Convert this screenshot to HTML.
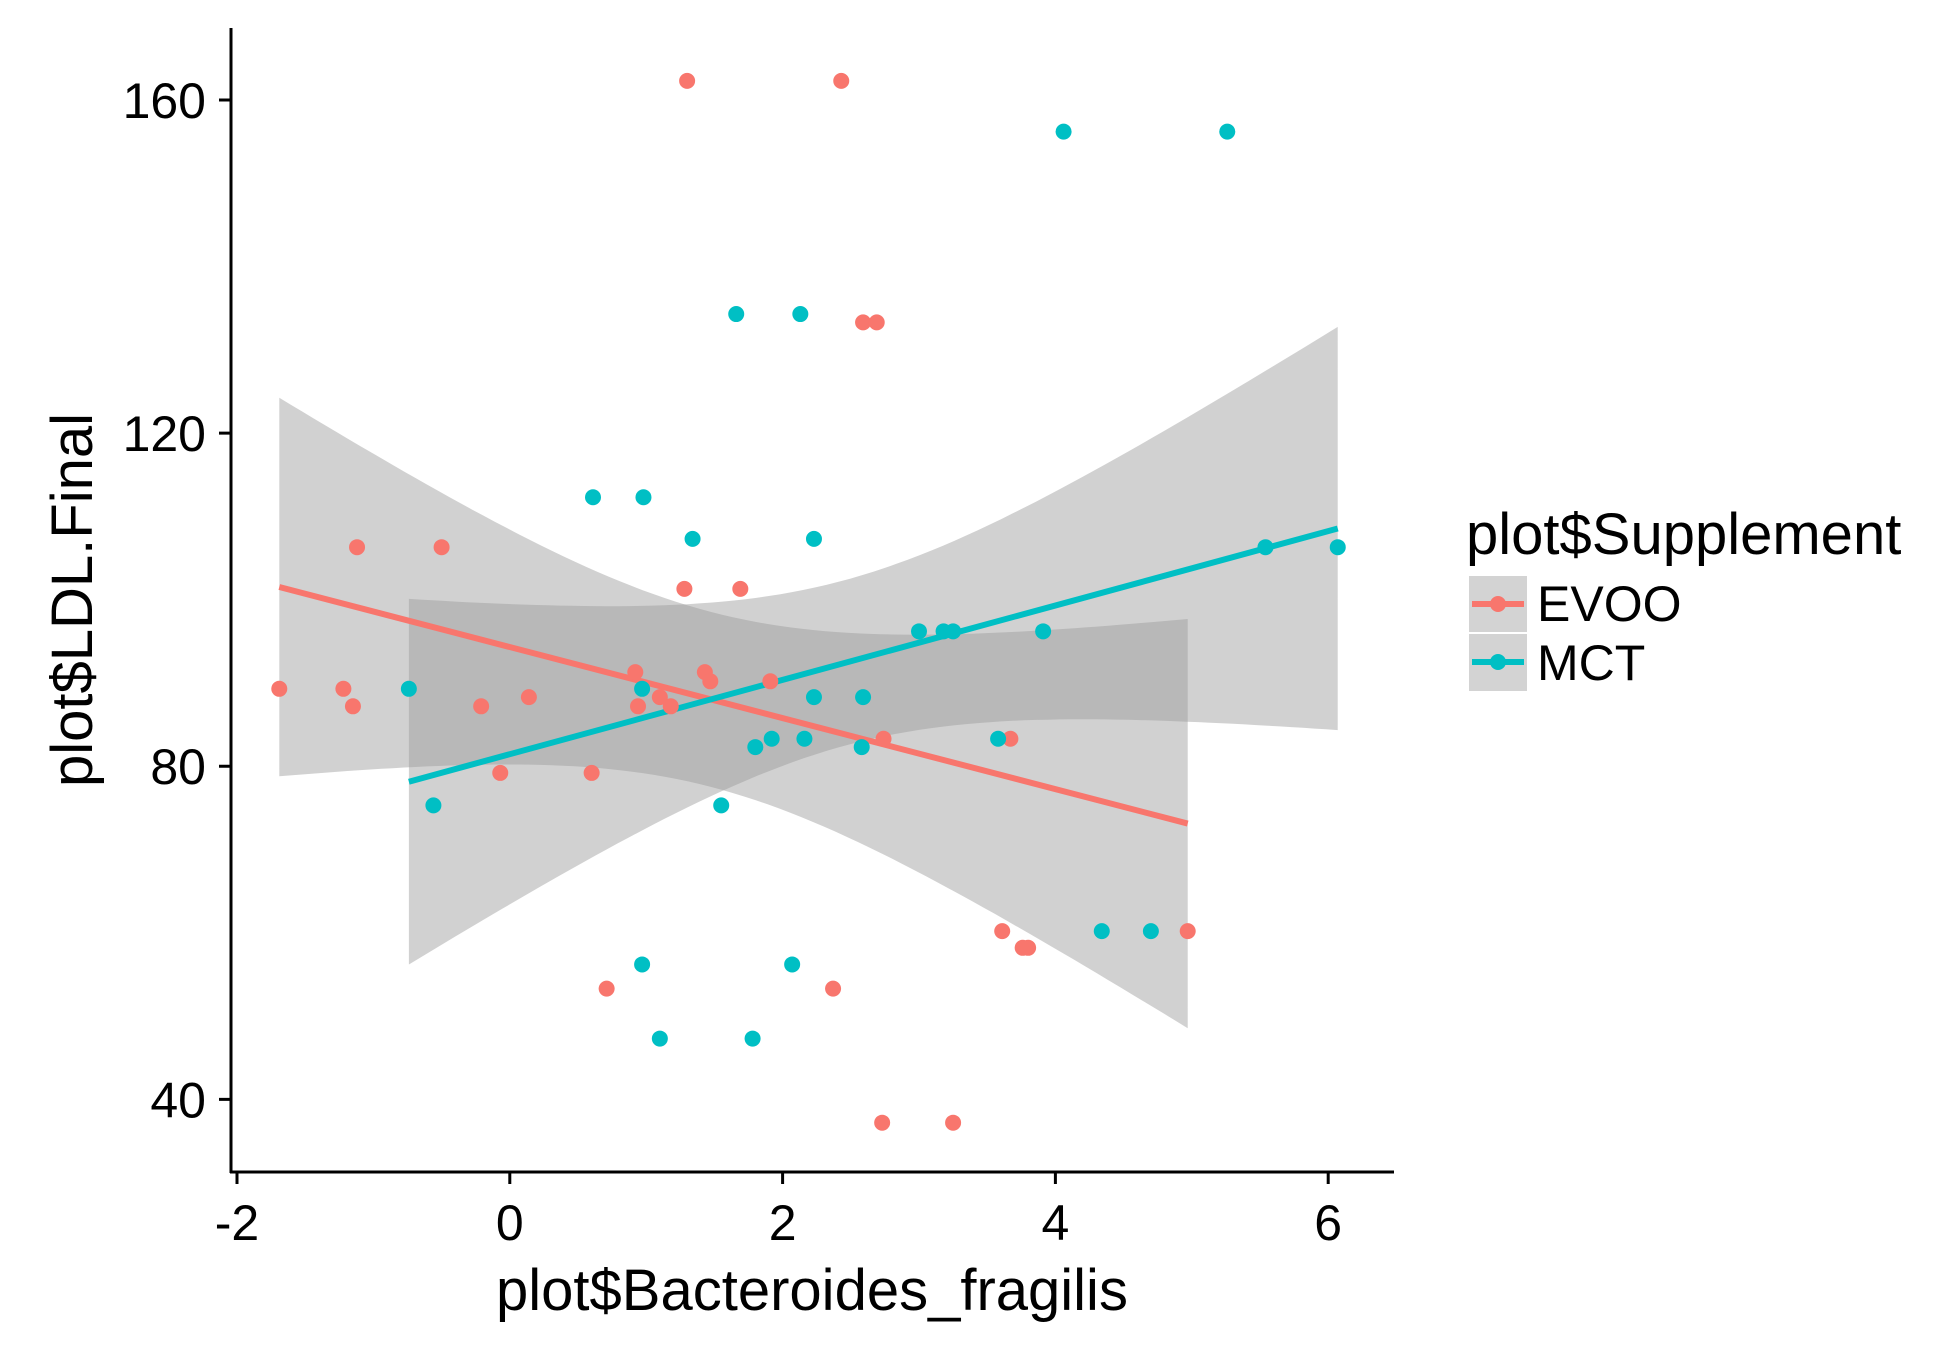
<!DOCTYPE html>
<html><head><meta charset="utf-8"><style>
html,body{margin:0;padding:0;background:#fff;}
svg{display:block;font-family:"Liberation Sans",Arial,sans-serif;}
</style></head><body>
<svg id="chart" width="1950" height="1350" viewBox="0 0 1950 1350">
<g id="ribbons"></g>
<g id="lines"></g>
<g id="points"></g>
<g id="axes"></g>
<text x="812" y="1310" font-size="58" text-anchor="middle" fill="#000">plot$Bacteroides_fragilis</text>
<text transform="translate(92,600) rotate(-90)" font-size="58" text-anchor="middle" fill="#000">plot$LDL.Final</text>
<g>
<text x="1466" y="554" font-size="58" fill="#000">plot$Supplement</text>
<g>
<rect x="1469" y="576" width="58" height="56" fill="#d3d3d3"/>
<line x1="1472" y1="604" x2="1524" y2="604" stroke="#F8766D" stroke-width="6"/>
<circle cx="1498" cy="604" r="8" fill="#F8766D"/>
<text x="1537" y="621" font-size="50" fill="#000">EVOO</text>
</g>
<g>
<rect x="1469" y="634" width="58" height="57" fill="#d3d3d3"/>
<line x1="1472" y1="662" x2="1524" y2="662" stroke="#00BFC4" stroke-width="6"/>
<circle cx="1498" cy="662" r="8" fill="#00BFC4"/>
<text x="1537" y="680" font-size="50" fill="#000">MCT</text>
</g>
</g>
</svg>
<script>
const evooX=[1.30,2.43,2.59,2.69,-1.12,-0.50,1.28,1.69,-1.69,-1.22,-1.15,-0.21,0.14,0.92,0.94,1.10,1.18,1.43,1.47,1.91,-0.07,0.60,2.74,3.67,3.61,3.76,3.80,4.97,0.71,2.37,2.73,3.25];
const evooY=[162.3,162.3,133.3,133.3,106.3,106.3,101.3,101.3,89.3,89.3,87.2,87.2,88.3,91.3,87.2,88.3,87.2,91.3,90.2,90.2,79.2,79.2,83.3,83.3,60.2,58.2,58.2,60.2,53.3,53.3,37.2,37.2];
const mctX=[4.06,5.26,1.66,2.13,0.61,0.98,1.34,2.23,5.54,6.07,3.00,3.18,3.25,3.91,-0.74,0.97,2.23,2.59,1.92,2.16,1.80,2.58,3.58,-0.56,1.55,4.34,4.70,0.97,2.07,1.10,1.78];
const mctY=[156.2,156.2,134.3,134.3,112.3,112.3,107.3,107.3,106.3,106.3,96.2,96.2,96.2,96.2,89.3,89.3,88.3,88.3,83.3,83.3,82.3,82.3,83.3,75.3,75.3,60.2,60.2,56.2,56.2,47.3,47.3];
const xTicks=[-2,0,2,4,6];
const yTicks=[40,80,120,160];

const NS="http://www.w3.org/2000/svg";
function sx(v){return 237+(v+2)*136.4;}
function sy(v){return 100+(160-v)*8.3281;}
function mk(tag,attrs,parent){const e=document.createElementNS(NS,tag);for(const k in attrs)e.setAttribute(k,attrs[k]);parent.appendChild(e);return e;}
const gR=document.getElementById('ribbons'),gL=document.getElementById('lines'),gP=document.getElementById('points'),gA=document.getElementById('axes');

function fit(xs,ys){
  const n=xs.length;let mx=0,my=0;for(let i=0;i<n;i++){mx+=xs[i];my+=ys[i];}mx/=n;my/=n;
  let sxx=0,sxy=0;for(let i=0;i<n;i++){sxx+=(xs[i]-mx)**2;sxy+=(xs[i]-mx)*(ys[i]-my);}
  const b=sxy/sxx,a=my-b*mx;let sse=0;for(let i=0;i<n;i++)sse+=(ys[i]-a-b*xs[i])**2;
  const s=Math.sqrt(sse/(n-2));return {a,b,s,n,mx,sxx};
}
function drawFit(xs,ys,color,name){
  const f=fit(xs,ys);const lo=Math.min(...xs),hi=Math.max(...xs);const t=2.03;
  const up=[],dn=[];
  for(let k=0;k<=80;k++){const x=lo+(hi-lo)*k/80;const yh=f.a+f.b*x;const se=f.s*Math.sqrt(1/f.n+(x-f.mx)**2/f.sxx);
    up.push(sx(x).toFixed(1)+','+sy(yh+t*se).toFixed(1));dn.unshift(sx(x).toFixed(1)+','+sy(yh-t*se).toFixed(1));}
  const r=mk('polygon',{points:up.concat(dn).join(' '),fill:'#999999','fill-opacity':0.45},gR);
  
  
  const l=mk('line',{x1:sx(lo),y1:sy(f.a+f.b*lo),x2:sx(hi),y2:sy(f.a+f.b*hi),stroke:color,'stroke-width':6},gL);
  
  
}
drawFit(evooX,evooY,'#F8766D','evoo');
drawFit(mctX,mctY,'#00BFC4','mct');
function drawPts(xs,ys,color,name){
  for(let i=0;i<xs.length;i++){
    const c=mk('circle',{cx:sx(xs[i]),cy:sy(ys[i]),r:8,fill:color},gP);
    
    
  }
}
drawPts(evooX,evooY,'#F8766D','evoo');
drawPts(mctX,mctY,'#00BFC4','mct');

const ya=mk('line',{x1:231,y1:28,x2:231,y2:1173,stroke:'#000','stroke-width':3},gA);


const xa=mk('line',{x1:230,y1:1172,x2:1394,y2:1172,stroke:'#000','stroke-width':3},gA);


yTicks.forEach(v=>{
  const t=mk('line',{x1:219,y1:sy(v),x2:231,y2:sy(v),stroke:'#000','stroke-width':3},gA);
  
  
  const lb=mk('text',{x:206,y:sy(v)+18,'font-size':50,'text-anchor':'end',fill:'#000'},gA);
  lb.textContent=v;
  
  
});
xTicks.forEach(v=>{
  const t=mk('line',{x1:sx(v),y1:1172,x2:sx(v),y2:1184,stroke:'#000','stroke-width':3},gA);
  
  
  const lb=mk('text',{x:sx(v),y:1240,'font-size':50,'text-anchor':'middle',fill:'#000'},gA);
  lb.textContent=v;
  
  
});
</script>
</body></html>
